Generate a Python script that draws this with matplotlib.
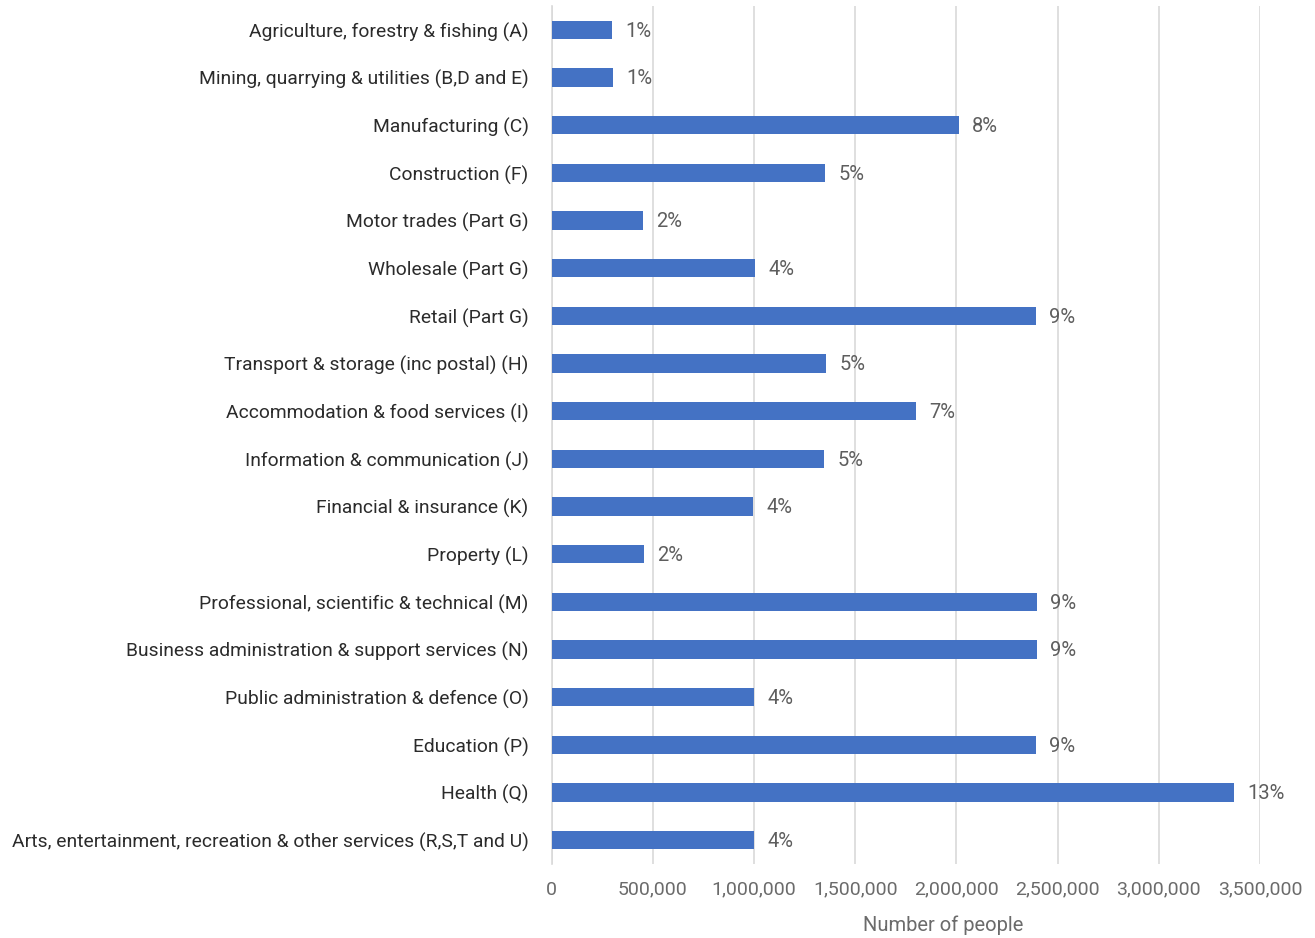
import matplotlib
matplotlib.use("Agg")
import matplotlib.pyplot as plt
from matplotlib.ticker import FuncFormatter

plt.rcParams["font.family"] = ["Roboto", "DejaVu Sans"]

industries = [
    "Agriculture, forestry & fishing (A)",
    "Mining, quarrying & utilities (B,D and E)",
    "Manufacturing (C)",
    "Construction (F)",
    "Motor trades (Part G)",
    "Wholesale (Part G)",
    "Retail (Part G)",
    "Transport & storage (inc postal) (H)",
    "Accommodation & food services (I)",
    "Information & communication (J)",
    "Financial & insurance (K)",
    "Property (L)",
    "Professional, scientific & technical (M)",
    "Business administration & support services (N)",
    "Public administration & defence (O)",
    "Education (P)",
    "Health (Q)",
    "Arts, entertainment, recreation & other services (R,S,T and U)",
]
people = [299000, 304000, 2013000, 1351000, 452000, 1005000, 2394000, 1356000,
          1801000, 1346000, 996000, 457000, 2399000, 2399000, 1000000, 2394000,
          3372000, 1000000]
shares = ["1%", "1%", "8%", "5%", "2%", "4%", "9%", "5%", "7%", "5%", "4%", "2%",
          "9%", "9%", "4%", "9%", "13%", "4%"]

fig = plt.figure(figsize=(13.15, 9.38), dpi=100)
ax = fig.add_axes([0.4194, 0.0789, 0.5389, 0.9147])

pos = list(range(len(industries)))
ax.barh(pos, people, height=0.38, color="#4472C4", zorder=3)
for y, v, s in zip(pos, people, shares):
    ax.text(v + 65000, y + 0.03, s, va="center", ha="left", fontsize=14.5,
            color="#5e5e5e")

ax.set_ylim(len(industries) - 0.5, -0.5)
ax.set_yticks(pos)
ax.set_yticklabels(industries, fontsize=13.9, color="#2b2b2b")
ax.set_xlim(0, 3500000)
ax.set_xticks(range(0, 3500001, 500000))
ax.xaxis.set_major_formatter(FuncFormatter(lambda v, p: f"{int(v):,}"))
ax.tick_params(axis="x", labelsize=14, labelcolor="#6b6b6b", length=0, pad=12)
ax.tick_params(axis="y", length=0, pad=16.5)
ax.grid(axis="x", color="#d9d9d9", linewidth=1.2, zorder=0)
for side in ["top", "right", "bottom"]:
    ax.spines[side].set_visible(False)
ax.spines["left"].set_color("#d9d9d9")
ax.spines["left"].set_linewidth(1.2)
ax.set_xlabel("Number of people", fontsize=14.5, color="#6b6b6b")
ax.xaxis.set_label_coords(0.552, -0.06)

fig.savefig("out.png", dpi=100)
